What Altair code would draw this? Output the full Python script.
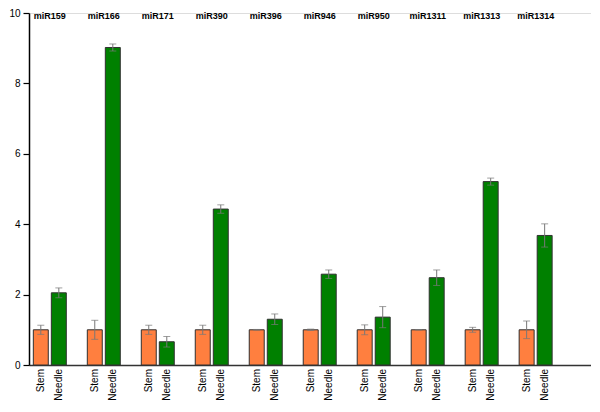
import altair as alt
import pandas as pd

mirnas = ["miR159", "miR166", "miR171", "miR390", "miR396",
          "miR946", "miR950", "miR1311", "miR1313", "miR1314"]
tissues = ["Stem", "Needle"]
stem_vals = [1.0, 1.0, 1.0, 1.0, 1.0, 1.0, 1.0, 1.0, 1.0, 1.0]
stem_err = [0.13, 0.27, 0.13, 0.13, 0.01, 0.02, 0.14, 0.0, 0.07, 0.25]
needle_vals = [2.05, 9.02, 0.66, 4.43, 1.30, 2.58, 1.36, 2.48, 5.21, 3.68]
needle_err = [0.14, 0.10, 0.15, 0.12, 0.15, 0.12, 0.30, 0.22, 0.10, 0.33]
colors = ["#FF7F3F", "#008000"]
y_ticks = [0, 2, 4, 6, 8, 10]

rows = []
for i, m in enumerate(mirnas):
    rows.append({"mirna": m, "tissue": "Stem", "value": stem_vals[i],
                 "lo": stem_vals[i] - stem_err[i], "hi": stem_vals[i] + stem_err[i]})
    rows.append({"mirna": m, "tissue": "Needle", "value": needle_vals[i],
                 "lo": needle_vals[i] - needle_err[i], "hi": needle_vals[i] + needle_err[i]})
df = pd.DataFrame(rows)
labels_df = pd.DataFrame({"mirna": mirnas})

W = 562
H = 352
FONT = "Liberation Sans"

x_scale = alt.Scale(domain=mirnas, paddingInner=0.389, paddingOuter=0.40, align=0.10)
x_enc = alt.X("mirna:N", sort=mirnas, title=None, scale=x_scale,
              axis=alt.Axis(labels=False, ticks=False, domain=True, domainColor="#333333",
                            domainWidth=1.5, grid=False))
xo_enc = alt.XOffset("tissue:N", sort=tissues,
                     scale=alt.Scale(domain=tissues, paddingInner=0.17, paddingOuter=0.0))
y_enc = alt.Y("value:Q", title=None,
              scale=alt.Scale(domain=[0, 10], nice=False),
              axis=alt.Axis(values=y_ticks, grid=False, domainColor="#000000", domainWidth=1.5,
                            tickColor="#000000", tickSize=6, tickWidth=1.2, labelPadding=3,
                            labelFont=FONT, labelFontSize=10, labelColor="#000000"))

base = alt.Chart(df)

shadow = base.mark_bar(fill="#b0b0b0", xOffset=2, stroke=None).encode(
    x=x_enc, xOffset=xo_enc, y=y_enc)

bars = base.mark_bar(stroke="#333333", strokeWidth=1).encode(
    x=x_enc, xOffset=xo_enc, y=y_enc,
    color=alt.Color("tissue:N", scale=alt.Scale(domain=tissues, range=colors), legend=None))

err = base.mark_rule(color="#777777", strokeWidth=1).encode(
    x=x_enc, xOffset=xo_enc, y="lo:Q", y2="hi:Q")
cap_lo = base.mark_tick(color="#777777", orient="horizontal", size=7, thickness=1).encode(
    x=x_enc, xOffset=xo_enc, y="lo:Q")
cap_hi = base.mark_tick(color="#777777", orient="horizontal", size=7, thickness=1).encode(
    x=x_enc, xOffset=xo_enc, y="hi:Q")

bottom_text = base.mark_text(angle=270, align="right", baseline="middle", font=FONT,
                             fontSize=10, color="#000000").encode(
    x=x_enc, xOffset=xo_enc, y=alt.value(H + 4), text="tissue:N")

top_text = alt.Chart(labels_df).mark_text(font=FONT, fontSize=9, fontWeight="bold",
                                          color="#000000", baseline="middle").encode(
    x=alt.X("mirna:N", sort=mirnas, scale=x_scale, title=None),
    y=alt.value(3), text="mirna:N")

chart = alt.layer(shadow, bars, err, cap_lo, cap_hi, bottom_text, top_text).properties(
    width=W, height=H, padding=0
).configure_view(stroke=None).configure(background="white")

chart.save("out.html", embed_options={"renderer": "svg", "actions": False})
